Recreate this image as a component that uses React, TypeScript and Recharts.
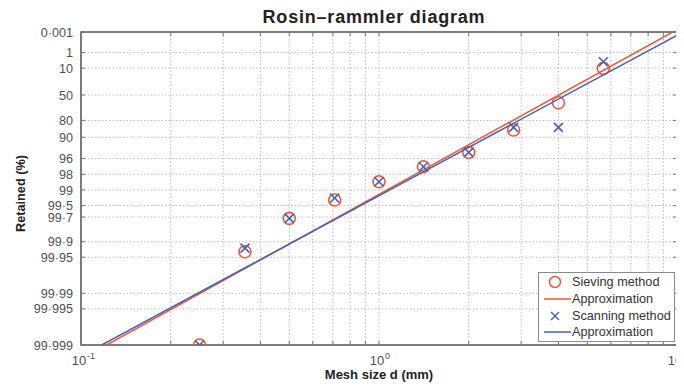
import React from 'react';
import { ScatterChart, Scatter, XAxis, YAxis, CartesianGrid, Legend, ReferenceArea } from 'recharts';

// ---- data ----
const meshSize = [0.25, 0.355, 0.5, 0.71, 1.0, 1.41, 2.0, 2.83, 4.0, 5.66];
const sievingRetained = [99.999, 99.936, 99.717, 99.361, 98.56, 97.21, 94.76, 86.46, 61.2, 10.3];
const scanningRetained = [99.999, 99.925, 99.717, 99.3, 98.56, 97.21, 94.76, 84.87, 84.87, 4.7];

const sievingFitSize = [0.122, 9.67];
const sievingFitRetained = [99.999, 0.001];
const scanningFitSize = [0.1174, 10];
const scanningFitRetained = [99.999, 0.0047];

const xTicks = [0.1, 0.2, 0.3, 0.4, 0.5, 0.6, 0.7, 0.8, 0.9, 1, 2, 3, 4, 5, 6, 7, 8, 9, 10];
const xTickExponent: Record<string, string> = { '0.1': '-1', '1': '0', '10': '1' };
const yTickRetained = [0.001, 1, 10, 50, 80, 90, 96, 98, 99, 99.5, 99.7, 99.9, 99.95, 99.99, 99.995, 99.999];
const yTickLabels = yTickRetained.map((r) => String(r).replace('.', '·'));

const title = 'Rosin–rammler diagram';
const xLabel = 'Mesh size d (mm)';
const yLabel = 'Retained (%)';

// Rosin–Rammler transform
const T = (r: number) => Math.log10(Math.log(100 / r));

const yTicks = yTickRetained.map(T);
const yDomain = [T(99.999), T(0.001)];
const xDomain = [0.1, 10];

const toPts = (xs: number[], rs: number[]) => xs.map((d, i) => ({ x: d, y: T(rs[i]) }));
const sievingData = toPts(meshSize, sievingRetained);
const scanningData = toPts(meshSize, scanningRetained);
const sievingFit = toPts(sievingFitSize, sievingFitRetained);
const scanningFit = toPts(scanningFitSize, scanningFitRetained);

const RED = '#ec5a3c';
const BLUE = '#4a5fb6';
const AXIS = '#767676';
const TICKTXT = '#505050';
const FONT = 'Liberation Sans, Arial, sans-serif';

// layout
const W = 676;
const H = 379;
const M = { top: 24, right: 7, left: 0, bottom: 0 };
const Y_AXIS_W = 73;
const X_AXIS_H = 42;
const PLOT_W = W - M.left - M.right - Y_AXIS_W;
const PLOT_H = H - M.top - M.bottom - X_AXIS_H;
const TICK_LEN = 4;

const nearestIndex = (v: number) => {
  let best = 0;
  let bd = Infinity;
  yTicks.forEach((t, i) => {
    const dd = Math.abs(t - v);
    if (dd < bd) { bd = dd; best = i; }
  });
  return best;
};

const XTick = (p: any) => {
  const { x, y, payload } = p;
  const axisY = y - 8;
  const topY = axisY - PLOT_H;
  const exp = xTickExponent[String(payload.value)];
  const isLast = payload.value === xDomain[1];
  return (
    <g>
      <line x1={x} x2={x} y1={axisY} y2={axisY - TICK_LEN} stroke={AXIS} strokeWidth={1} />
      <line x1={x} x2={x} y1={topY} y2={topY + TICK_LEN} stroke={AXIS} strokeWidth={1} />
      {isLast && <line x1={x} x2={x} y1={axisY} y2={topY} stroke={AXIS} strokeWidth={1.6} />}
      {exp !== undefined && (
        <g fontFamily={FONT} fill={TICKTXT}>
          <text x={x - 2} y={axisY + 20} textAnchor="middle" fontSize={13}>10</text>
          <text x={x + 6} y={axisY + 14} textAnchor="start" fontSize={9}>{exp}</text>
        </g>
      )}
    </g>
  );
};

const YTick = (p: any) => {
  const { x, y, payload } = p;
  const axisX = x + 8;
  const rightX = axisX + PLOT_W;
  const idx = nearestIndex(payload.value);
  return (
    <g>
      <line x1={axisX} x2={axisX + TICK_LEN} y1={y} y2={y} stroke={AXIS} strokeWidth={1} />
      <line x1={rightX} x2={rightX - TICK_LEN} y1={y} y2={y} stroke={AXIS} strokeWidth={1} />
      {idx === 0 && <line x1={axisX} x2={rightX} y1={y} y2={y} stroke={AXIS} strokeWidth={1.6} />}
      <text x={x} y={y} dy="0.36em" textAnchor="end" fontSize={12.6} fontFamily={FONT} fill={TICKTXT}>
        {yTickLabels[idx]}
      </text>
    </g>
  );
};

const Circle = (p: any) => (
  <circle cx={p.cx} cy={p.cy} r={6} fill="none" stroke={RED} strokeWidth={1.6} />
);
const Cross = (p: any) => (
  <g stroke={BLUE} strokeWidth={1.6}>
    <line x1={p.cx - 4.5} y1={p.cy - 4.5} x2={p.cx + 4.5} y2={p.cy + 4.5} />
    <line x1={p.cx - 4.5} y1={p.cy + 4.5} x2={p.cx + 4.5} y2={p.cy - 4.5} />
  </g>
);
const NoShape = () => <g />;

const YLabel = (p: any) => {
  const vb = p.viewBox || {};
  const cx = vb.x + 13;
  const cy = vb.y + vb.height / 2 + 5;
  return (
    <text x={cx} y={cy} transform={`rotate(-90 ${cx} ${cy})`} dy="0.35em" textAnchor="middle" fontSize={12.7} fontWeight="bold" fontFamily={FONT} fill="#222">
      {yLabel}
    </text>
  );
};

const TitleLabel = (p: any) => {
  const vb = p.viewBox || {};
  return (
    <text
      x={vb.x + vb.width / 2 - 5}
      y={vb.y - 9.5}
      textAnchor="middle"
      fontSize={18}
      letterSpacing={0.8}
      fontWeight="bold"
      fontFamily={FONT}
      fill="#222"
    >
      {title}
    </text>
  );
};

const legendRows = [
  { label: 'Sieving method', kind: 'circle', color: RED },
  { label: 'Approximation', kind: 'line', color: RED },
  { label: 'Scanning method', kind: 'cross', color: BLUE },
  { label: 'Approximation', kind: 'line', color: BLUE },
];

const LegendBox = () => (
  <div
    style={{
      boxSizing: 'border-box',
      width: 137,
      height: 70,
      border: '1px solid #8a8a8a',
      background: '#fff',
      paddingTop: 1,
      fontFamily: FONT,
      fontSize: 12.7,
      color: '#333',
    }}
  >
    {legendRows.map((r, i) => (
      <div key={i} style={{ display: 'flex', alignItems: 'center', height: 16.7 }}>
        <svg width={33} height={16} style={{ flex: 'none' }}>
          {r.kind === 'circle' && <circle cx={16} cy={8} r={5.5} fill="none" stroke={r.color} strokeWidth={1.5} />}
          {r.kind === 'line' && <line x1={5} x2={32} y1={8} y2={8} stroke={r.color} strokeWidth={1.5} />}
          {r.kind === 'cross' && (
            <g stroke={r.color} strokeWidth={1.5}>
              <line x1={12} y1={4} x2={20} y2={12} />
              <line x1={12} y1={12} x2={20} y2={4} />
            </g>
          )}
        </svg>
        <span style={{ whiteSpace: 'nowrap' }}>{r.label}</span>
      </div>
    ))}
  </div>
);

export default function App() {
  return (
    <ScatterChart width={W} height={H} margin={M}>
      <CartesianGrid stroke="#bdbdbd" strokeDasharray="1.5 2" />
      <XAxis
        dataKey="x"
        type="number"
        scale="log"
        domain={xDomain}
        ticks={xTicks}
        interval={0}
        allowDataOverflow
        height={X_AXIS_H}
        tickSize={0}
        tickMargin={8}
        tickLine={false}
        tick={(p: any) => <XTick {...p} />}
        axisLine={{ stroke: AXIS, strokeWidth: 1.6 }}
        label={{ value: xLabel, position: 'insideBottom', offset: 8, fontSize: 13, fontWeight: 'bold', fontFamily: FONT, fill: '#222' }}
      />
      <YAxis
        dataKey="y"
        type="number"
        domain={yDomain}
        ticks={yTicks}
        interval={0}
        allowDataOverflow
        width={Y_AXIS_W}
        tickSize={0}
        tickMargin={8}
        tickLine={false}
        tick={(p: any) => <YTick {...p} />}
        axisLine={{ stroke: AXIS, strokeWidth: 1.6 }}
        label={(p: any) => <YLabel {...p} />}
      />
      <ReferenceArea
        x1={xDomain[0]}
        x2={xDomain[1]}
        y1={yDomain[0]}
        y2={yDomain[1]}
        fill="none"
        fillOpacity={0}
        stroke={AXIS}
        strokeWidth={1.6}
        strokeOpacity={1}
        ifOverflow="visible"
        label={(p: any) => <TitleLabel {...p} />}
      />
      <Scatter name="Sieving method" data={sievingData} shape={(p: any) => <Circle {...p} />} isAnimationActive={false} />
      <Scatter name="Approximation" data={sievingFit} line={{ stroke: RED, strokeWidth: 1.5 }} shape={NoShape} isAnimationActive={false} />
      <Scatter name="Scanning method" data={scanningData} shape={(p: any) => <Cross {...p} />} isAnimationActive={false} />
      <Scatter name="Approximation" data={scanningFit} line={{ stroke: BLUE, strokeWidth: 1.5 }} shape={NoShape} isAnimationActive={false} />
      <Legend
        layout="vertical"
        align="center"
        verticalAlign="middle"
        wrapperStyle={{ left: 530, top: 264, width: 137, height: 70 }}
        content={() => <LegendBox />}
      />
    </ScatterChart>
  );
}
